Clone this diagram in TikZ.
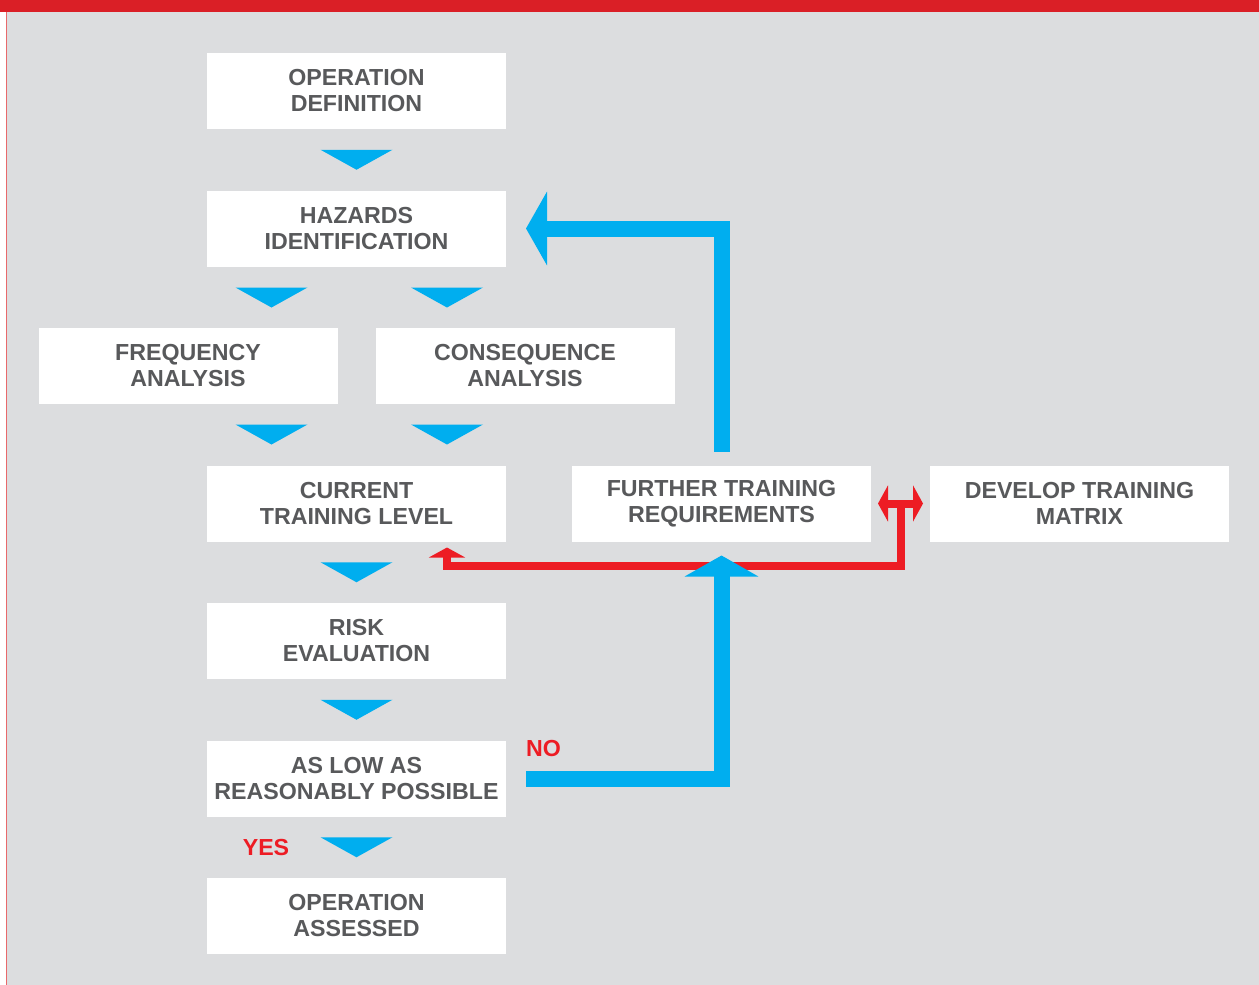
\documentclass[tikz,border=0pt]{standalone}
\usepackage{fontspec}
\setmainfont{Liberation Sans}
\usetikzlibrary{arrows.meta,calc,positioning}

\definecolor{bggray}{HTML}{DCDDDF}
\definecolor{topred}{HTML}{DA1F26}
\definecolor{edgered}{HTML}{E8696B}
\definecolor{linered}{HTML}{ED1C24}
\definecolor{arrblue}{HTML}{00AEEF}
\definecolor{txtgray}{HTML}{58595B}

\tikzset{
  box/.style={fill=white, minimum width=299bp, minimum height=76bp, inner sep=0bp, outer sep=0bp,
    align=center, text=txtgray, font=\fontsize{23.2bp}{26bp}\selectfont\bfseries},
  answer/.style={inner sep=0bp, text=linered, font=\fontsize{23.2bp}{26bp}\selectfont\bfseries},
  chevron/.pic={\fill[arrblue] (-36bp,10bp) -- (36bp,10bp) -- (0bp,-10bp) -- cycle;},
  bluearrow/.style={draw=arrblue, line width=16bp, -{Triangle[width=73bp,length=21bp]}},
  redarrow/.style={draw=linered, line width=8bp}
}

\begin{document}
\begin{tikzpicture}
  \useasboundingbox (0,0) rectangle (1259bp,-985bp);
  \fill[white] (0,0) rectangle (1259bp,-985bp);
  \fill[bggray] (7bp,-12bp) rectangle (1259bp,-985bp);
  \fill[topred] (0,0) rectangle (1259bp,-12bp);
  \draw[edgered, line width=1.5bp] (6.5bp,-12bp) -- (6.5bp,-985bp);

  \node[box] (opdef) at (356.5bp,-91bp) {OPERATION\\DEFINITION};
  \node[box, below=61.5bp of opdef] (hazid) {HAZARDS\\IDENTIFICATION};
  \node[box, below=61.5bp of hazid, xshift=-168.5bp] (freq) {FREQUENCY\\ANALYSIS};
  \node[box, below=61.5bp of hazid, xshift=168.5bp] (cons) {CONSEQUENCE\\ANALYSIS};
  \node[box, below=61.5bp of freq, xshift=168.5bp] (current) {CURRENT\\TRAINING LEVEL};
  \node[box, right=66bp of current] (further) {FURTHER TRAINING\\REQUIREMENTS};
  \node[box, right=59bp of further] (develop) {DEVELOP TRAINING\\MATRIX};
  \node[box, below=61.5bp of current] (risk) {RISK\\EVALUATION};
  \node[box, below=61.5bp of risk] (alarp) {AS LOW AS\\REASONABLY POSSIBLE};
  \node[box, below=61.5bp of alarp] (opdone) {OPERATION\\ASSESSED};

  \pic at ($(opdef.south)!0.5!(hazid.north)$) {chevron};
  \pic at ($(hazid.south)+(-85bp,-31bp)$) {chevron};
  \pic at ($(hazid.south)+(90.5bp,-31bp)$) {chevron};
  \pic at ($(current.north)+(-85bp,31bp)$) {chevron};
  \pic at ($(current.north)+(90.5bp,31bp)$) {chevron};
  \pic at ($(current.south)!0.5!(risk.north)$) {chevron};
  \pic at ($(risk.south)!0.5!(alarp.north)$) {chevron};
  \pic at ($(alarp.south)!0.5!(opdone.north)$) {chevron};

  \node[answer] (yes) at ($(alarp.south)!0.5!(opdone.north)+(-90.5bp,0)$) {YES};
  \node[answer, anchor=base west] (no) at ([xshift=20bp,yshift=-16bp]alarp.north east) {NO};

  \coordinate (split) at ($(further.east)!0.5!(develop.west)$);
  \draw[redarrow, {Triangle[width=36bp,length=10bp]}-{Triangle[width=36bp,length=10bp]}]
    ([xshift=7bp]further.east) -- ([xshift=-7bp]develop.west);
  \draw[redarrow, -{Triangle[width=36bp,length=10bp]}] (split)
    |- ([xshift=90.5bp,yshift=-24bp]current.south) -- ([xshift=90.5bp,yshift=-6bp]current.south);

  \draw[bluearrow] ([xshift=20bp]alarp.east) -| ([yshift=-14bp]further.south);
  \draw[bluearrow] ([yshift=14bp]further.north) |- ([xshift=20bp]hazid.east);

\end{tikzpicture}
\end{document}
